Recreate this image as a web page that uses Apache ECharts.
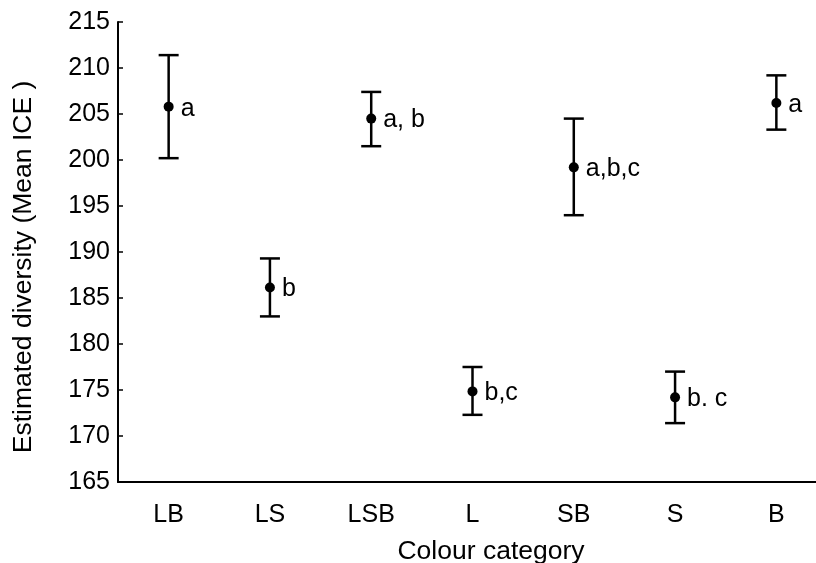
<!DOCTYPE html>
<html>
<head>
<meta charset="utf-8">
<script src="https://cdn.jsdelivr.net/npm/echarts@6/dist/echarts.min.js"></script>
<style>
  html, body { margin: 0; padding: 0; background: #fff; }
  #chart { width: 816px; height: 563px; }
</style>
</head>
<body>
<div id="chart"></div>
<script>
// Colour categories and their ICE diversity estimates
const categories = ['LB', 'LS', 'LSB', 'L', 'SB', 'S', 'B'];
const meanICE   = [205.8, 186.15, 204.5, 174.85, 199.2, 174.2, 206.2];
const lowerICE  = [200.2, 183.0, 201.5, 172.3, 194.0, 171.4, 203.3];
const upperICE  = [211.4, 189.3, 207.4, 177.5, 204.5, 177.0, 209.2];
const groupLetters = ['a', 'b', 'a, b', 'b,c', 'a,b,c', 'b. c', 'a'];
const yTicks = { min: 165, max: 215, step: 5 };

const FONT = 'Liberation Sans, Arial, sans-serif';
const INK = '#000';
const FS = 25;        // tick and point labels
const FS_NAME = 26.5; // axis titles

const chart = echarts.init(document.getElementById('chart'), null, { renderer: 'canvas' });

const errorData = categories.map((c, i) => [i, lowerICE[i], upperICE[i]]);
const pointData = categories.map((c, i) => ({ value: [i, meanICE[i]], letter: groupLetters[i] }));

chart.setOption({
  animation: false,
  backgroundColor: '#fff',
  grid: { left: 118, top: 22, right: -11, bottom: 81, containLabel: false, outerBoundsMode: 'none' },
  xAxis: {
    type: 'category',
    data: categories,
    boundaryGap: true,
    name: 'Colour category',
    nameLocation: 'middle',
    nameGap: 56,
    nameTextStyle: { fontFamily: FONT, fontSize: FS_NAME, color: INK, padding: [0, 0, 0, 37] },
    axisLine: { lineStyle: { color: INK, width: 2 } },
    axisTick: { inside: true, length: 4, alignWithLabel: true, lineStyle: { color: INK, width: 1.5 } },
    axisLabel: { fontFamily: FONT, fontSize: FS, color: INK, margin: 21 },
    splitLine: { show: false }
  },
  yAxis: {
    type: 'value',
    min: yTicks.min,
    max: yTicks.max,
    interval: yTicks.step,
    name: 'Estimated diversity (Mean ICE )',
    nameLocation: 'middle',
    nameGap: 81,
    nameRotate: 90,
    nameTextStyle: { fontFamily: FONT, fontSize: FS_NAME, color: INK, padding: [0, 30, 0, 0] },
    axisLine: { show: true, lineStyle: { color: INK, width: 2 } },
    axisTick: { show: true, inside: true, length: 5, lineStyle: { color: INK, width: 1.5 } },
    axisLabel: { fontFamily: FONT, fontSize: FS, color: INK, margin: 8 },
    splitLine: { show: false }
  },
  series: [
    {
      type: 'custom',
      name: 'range',
      data: errorData,
      encode: { x: 0, y: [1, 2] },
      renderItem: function (params, api) {
        const x = api.value(0);
        const lo = api.coord([x, api.value(1)]);
        const hi = api.coord([x, api.value(2)]);
        const half = 10;
        const style = { stroke: INK, lineWidth: 2.5 };
        return {
          type: 'group',
          children: [
            { type: 'line', shape: { x1: lo[0], y1: lo[1], x2: hi[0], y2: hi[1] }, style: style },
            { type: 'line', shape: { x1: hi[0] - half, y1: hi[1], x2: hi[0] + half, y2: hi[1] }, style: style },
            { type: 'line', shape: { x1: lo[0] - half, y1: lo[1], x2: lo[0] + half, y2: lo[1] }, style: style }
          ]
        };
      },
      z: 2
    },
    {
      type: 'scatter',
      name: 'mean',
      data: pointData,
      symbol: 'circle',
      symbolSize: 10,
      itemStyle: { color: INK, opacity: 1 },
      label: {
        show: true,
        position: 'right',
        distance: 7,
        offset: [0, 2],
        fontFamily: FONT,
        fontSize: FS,
        color: INK,
        formatter: function (p) { return p.data.letter; }
      },
      emphasis: { disabled: true },
      z: 3
    }
  ]
});
</script>
</body>
</html>
